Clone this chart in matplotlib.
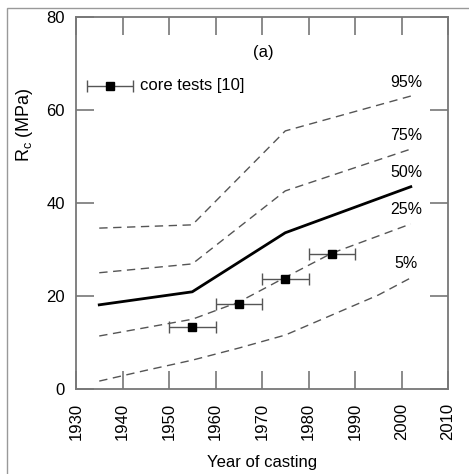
import matplotlib.pyplot as plt
from matplotlib.patches import Rectangle

plt.rcParams['font.family'] = ['Liberation Sans', 'DejaVu Sans']

# percentile curves (year, MPa)
yr_95 = [1935, 1955, 1975, 2002]
rc_95 = [34.6, 35.3, 55.5, 63.0]
yr_75 = [1935, 1955, 1975, 2002]
rc_75 = [25.0, 26.9, 42.6, 51.6]
yr_50 = [1935, 1955, 1975, 2002]
rc_50 = [18.1, 20.9, 33.6, 43.5]
yr_25 = [1935, 1945, 1955, 1965, 1975, 1985, 2002]
rc_25 = [11.4, 13.2, 15.0, 18.7, 24.0, 29.2, 35.5]
yr_5 = [1935, 1945, 1955, 1965, 1975, 1985, 1995, 2002]
rc_5 = [1.7, 4.0, 6.2, 8.8, 11.6, 15.9, 20.2, 23.9]

# core tests [10]
core_yr = [1955, 1965, 1975, 1985]
core_rc = [13.3, 18.3, 23.6, 29.0]
core_xerr = 5

pct_labels = ['95%', '75%', '50%', '25%', '5%']
pct_label_y = [66.0, 54.6, 46.5, 38.5, 26.9]

fig = plt.figure(figsize=(4.69, 4.74), dpi=100)
fig.patches.append(Rectangle((7/469, -0.1), 1.2, 0.1 + 1 - 8/474, transform=fig.transFigure,
                             fill=False, edgecolor='#999999', linewidth=1.0))
ax = fig.add_axes([76/469, 1 - 389/474, (448 - 76)/469, (389 - 17)/474])

dash = dict(color='#555555', lw=1.0, dashes=(6, 4))
ax.plot(yr_95, rc_95, **dash)
ax.plot(yr_75, rc_75, **dash)
ax.plot(yr_50, rc_50, color='black', lw=2.0)
ax.plot(yr_25, rc_25, **dash)
ax.plot(yr_5, rc_5, **dash)

ax.errorbar(core_yr, core_rc, xerr=core_xerr, fmt='s', color='black', ms=6,
            ecolor='#555555', elinewidth=1.0, capsize=4, capthick=1.0)
# legend entry
ax.errorbar([1937.3], [65.2], xerr=[[4.9], [5.0]], fmt='s', color='black', ms=6,
            ecolor='#555555', elinewidth=1.0, capsize=4, capthick=1.0)
ax.text(1943.7, 65.2, 'core tests [10]', fontsize=12, va='center', ha='left')

for lab, y in zip(pct_labels, pct_label_y):
    ax.text(2001, y, lab, fontsize=11.5, ha='center', va='center')
ax.text(1970.2, 72.3, '(a)', fontsize=12, ha='center', va='center')

ax.set_xlim(1930, 2010)
ax.set_ylim(0, 80)
ax.set_xticks(range(1930, 2011, 10))
ax.set_yticks(range(0, 81, 20))
ax.tick_params(direction='in', length=13, width=1.2, color='#777777',
               top=True, right=True, labelsize=12)
ax.tick_params(axis='x', pad=10, labelrotation=90)
ax.tick_params(axis='y', pad=8)
for s in ax.spines.values():
    s.set_color('#777777')
    s.set_linewidth(1.3)

ax.set_xlabel('Year of casting', fontsize=12)
ax.set_ylabel(r'R$_\mathregular{c}$ (MPa)', fontsize=13)
ax.xaxis.set_label_coords(0.5, -0.178)
ax.yaxis.set_label_coords(-0.11, 0.71)

plt.savefig('out.png', dpi=100)
